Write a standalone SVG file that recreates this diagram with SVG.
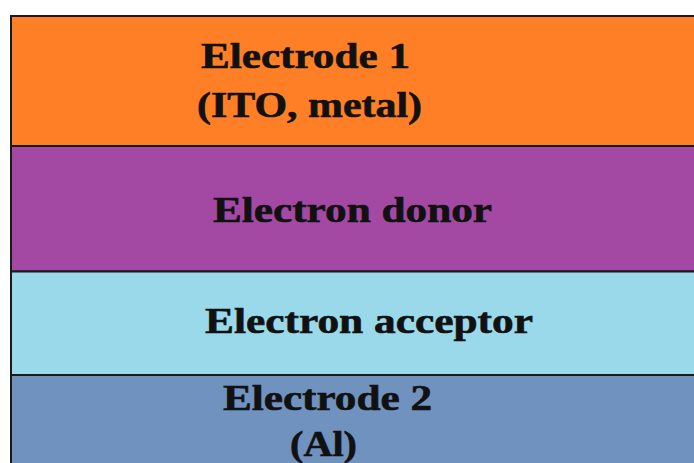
<svg xmlns="http://www.w3.org/2000/svg" width="694" height="463" viewBox="0 0 694 463">
<style>
.layer{stroke:#1a1a1a;stroke-width:2}
.t{font-family:"Liberation Serif","Times New Roman",serif;font-weight:bold;font-size:36px;fill:#111;stroke:#111;stroke-width:0.6}
</style>
<rect x="0" y="0" width="694" height="463" fill="#ffffff"/>
<g id="electrode1">
<rect class="layer" x="11" y="16" width="700" height="130" fill="#FF7F27"/>
<text class="t" x="201" y="68" textLength="209" lengthAdjust="spacingAndGlyphs">Electrode 1</text>
<text class="t" x="197" y="117" textLength="225" lengthAdjust="spacingAndGlyphs">(ITO, metal)</text>
</g>
<g id="donor">
<rect class="layer" x="11" y="146" width="700" height="125.5" fill="#A349A4"/>
<text class="t" x="213" y="221.5" textLength="279" lengthAdjust="spacingAndGlyphs">Electron donor</text>
</g>
<g id="acceptor">
<rect class="layer" x="11" y="271.5" width="700" height="103.5" fill="#99D9EA"/>
<text class="t" x="205" y="333" textLength="328" lengthAdjust="spacingAndGlyphs">Electron acceptor</text>
</g>
<g id="electrode2">
<rect class="layer" x="11" y="375" width="700" height="100" fill="#7092BE"/>
<text class="t" x="223" y="410" textLength="209" lengthAdjust="spacingAndGlyphs">Electrode 2</text>
<text class="t" x="290" y="456" textLength="67" lengthAdjust="spacingAndGlyphs">(Al)</text>
</g>
</svg>
